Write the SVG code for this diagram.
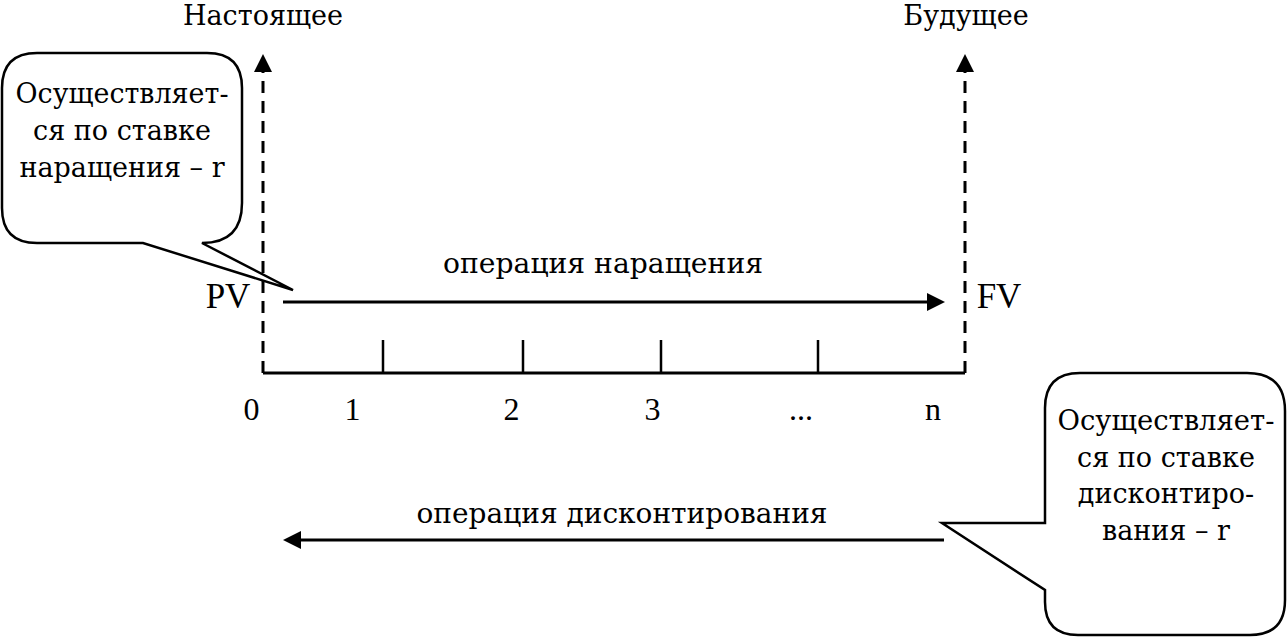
<svg xmlns="http://www.w3.org/2000/svg" width="1288" height="637" viewBox="0 0 1288 637">
<style>
.sb{font-family:"DejaVu Serif","Liberation Serif",serif;font-size:27px;fill:#000;text-anchor:middle}
.tm{font-family:"Liberation Serif","Times New Roman",serif;fill:#000;text-anchor:middle}
.ln{stroke:#000;stroke-width:3;fill:none}
.dash{stroke:#000;stroke-width:3;fill:none;stroke-dasharray:12 8}
.tick{stroke:#000;stroke-width:2.5;fill:none}
.call{stroke:#000;stroke-width:2.5;fill:#fff;stroke-linejoin:miter}
</style>
<defs>
<marker id="ah" viewBox="0 0 18 18" refX="0" refY="9" markerWidth="18" markerHeight="18" markerUnits="userSpaceOnUse" orient="auto">
<path d="M0,0 L18,9 L0,18 Z" fill="#000"/>
</marker>
</defs>
<rect width="1288" height="637" fill="#fff"/>
<g id="connectors">
<path class="dash" d="M263,373 V72" marker-end="url(#ah)"/>
<path class="dash" d="M965,373 V72" marker-end="url(#ah)"/>
<path class="ln" d="M263,373 H965"/>
<path class="tick" d="M383,340 V373 M523,340 V373 M661,340 V373 M818,340 V373"/>
<path class="ln" d="M283,302 H927" marker-end="url(#ah)"/>
<path class="ln" d="M944,540 H301" marker-end="url(#ah)"/>
</g>
<g id="label-present"><text class="sb" x="263" y="25">Настоящее</text></g>
<g id="label-future"><text class="sb" x="966" y="25">Будущее</text></g>
<g id="label-pv"><text class="tm" x="228" y="308" font-size="35">PV</text></g>
<g id="label-fv"><text class="tm" x="999" y="308" font-size="35">FV</text></g>
<g id="label-accrual"><text class="sb" x="603" y="273" textLength="320" lengthAdjust="spacingAndGlyphs">операция наращения</text></g>
<g id="label-discount"><text class="sb" x="622" y="523" textLength="411" lengthAdjust="spacingAndGlyphs">операция дисконтирования</text></g>
<g id="axis-labels">
<text class="tm" x="251.5" y="420" font-size="32">0</text>
<text class="tm" x="352.5" y="420" font-size="32">1</text>
<text class="tm" x="511.5" y="420" font-size="32">2</text>
<text class="tm" x="652.5" y="420" font-size="32">3</text>
<text class="tm" x="801" y="420" font-size="32">...</text>
<text class="tm" x="933" y="420" font-size="32">n</text>
</g>
<g id="callout-accrual">
<path class="call" d="M37,53 H207 Q242,53 242,88 V203 Q242,243 202,243 L293,290 L143,243 H37 Q2,243 2,208 V88 Q2,53 37,53 Z"/>
<text class="sb" x="122" y="103" textLength="213" lengthAdjust="spacingAndGlyphs">Осуществляет-</text>
<text class="sb" x="122" y="140">ся по ставке</text>
<text class="sb" x="122" y="177">наращения – r</text>
</g>
<g id="callout-discount">
<path class="call" d="M1080,373 H1247 Q1285,373 1285,411 V600 Q1285,635 1250,635 H1078 Q1045,635 1045,602 V590 L942,523 H1045 V408 Q1045,373 1080,373 Z"/>
<text class="sb" x="1166" y="430" textLength="217" lengthAdjust="spacingAndGlyphs">Осуществляет-</text>
<text class="sb" x="1166" y="467">ся по ставке</text>
<text class="sb" x="1166" y="503">дисконтиро-</text>
<text class="sb" x="1166" y="540">вания – r</text>
</g>
</svg>
